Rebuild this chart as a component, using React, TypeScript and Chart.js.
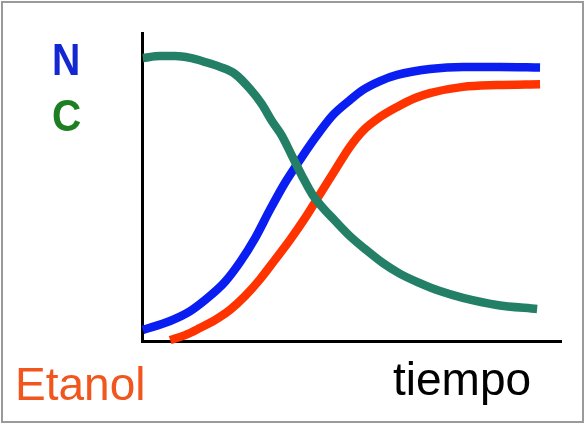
import React, { useEffect, useRef } from "react";
import { Chart, registerables } from "chart.js";

Chart.register(...registerables);

// time (0-100) and concentration (0-100) readings
const timeN = [0.2, 6.7, 11.5, 16.2, 19.8, 23.4, 27.0, 30.5, 34.1, 37.7, 41.3, 45.6, 49.6, 52.7, 56.8, 60.9, 68.7, 76.6, 85.4, 95.0];
const valueN = [3.6, 6.5, 9.7, 14.6, 19.2, 25.6, 33.4, 42.5, 51.3, 58.8, 65.9, 73.4, 78.2, 81.5, 84.4, 86.4, 88.3, 89.0, 89.0, 88.8];

const timeEtanol = [6.7, 10.3, 13.8, 17.4, 21.0, 24.6, 28.2, 31.7, 35.3, 38.9, 42.5, 46.1, 49.6, 52.7, 56.8, 60.9, 65.2, 68.7, 76.6, 84.7, 95.0];
const valueEtanol = [0.3, 1.9, 4.2, 6.8, 10.1, 14.6, 20.1, 26.3, 32.8, 39.9, 47.7, 55.5, 63.0, 68.2, 72.7, 76.0, 78.9, 80.5, 82.5, 83.1, 83.4];

const timeC = [0.2, 4.3, 7.9, 11.5, 15.0, 18.6, 22.2, 25.8, 28.6, 31.0, 33.4, 35.8, 38.2, 40.6, 43.0, 46.1, 49.6, 53.2, 57.5, 61.6, 66.3, 71.1, 76.6, 84.7, 94.3];
const valueC = [91.9, 92.5, 92.5, 91.9, 90.6, 89.0, 86.7, 81.8, 76.9, 71.4, 66.6, 60.1, 53.6, 47.7, 43.5, 39.0, 34.1, 29.9, 25.3, 21.8, 18.8, 16.2, 14.0, 11.7, 10.4];

const labelN = "N";
const labelC = "C";
const labelEtanol = "Etanol";
const labelTiempo = "tiempo";

const pts = (xs: number[], ys: number[]) => xs.map((x, i) => ({ x, y: ys[i] }));

export default function App() {
  const ref = useRef<HTMLCanvasElement | null>(null);

  useEffect(() => {
    if (!ref.current) return;
    const common = {
      borderWidth: 8.5,
      pointRadius: 0,
      cubicInterpolationMode: "monotone" as const,
      fill: false,
      clip: false as any,
      borderCapStyle: "butt" as const,
      borderJoinStyle: "round" as const,
    };
    const chart = new Chart(ref.current, {
      type: "line",
      data: {
        datasets: [
          { ...common, label: labelC, data: pts(timeC, valueC), borderColor: "#238066", order: 0 },
          { ...common, label: labelN, data: pts(timeN, valueN), borderColor: "#0A1EF2", order: 1 },
          { ...common, label: labelEtanol, data: pts(timeEtanol, valueEtanol), borderColor: "#FF3300", order: 2 },
        ],
      },
      options: {
        responsive: false,
        animation: false,
        layout: { padding: { left: 142, top: 33, right: 24, bottom: 82 } },
        plugins: { legend: { display: false }, tooltip: { enabled: false } },
        scales: {
          x: {
            type: "linear",
            min: 0,
            max: 100,
            grid: { display: false, drawTicks: false },
            ticks: { display: false },
            border: { display: true, color: "#000", width: 3 },
          },
          y: {
            type: "linear",
            min: 0,
            max: 100,
            grid: { display: false, drawTicks: false },
            ticks: { display: false },
            border: { display: true, color: "#000", width: 3 },
          },
        },
      },
    });
    return () => chart.destroy();
  }, []);

  const txt = (extra: React.CSSProperties): React.CSSProperties => ({
    position: "absolute",
    fontFamily: "'Liberation Sans', Arial, sans-serif",
    lineHeight: 1,
    whiteSpace: "nowrap",
    margin: 0,
    ...extra,
  });

  return (
    <div
      style={{
        position: "fixed",
        left: 0,
        top: 0,
        width: 585,
        height: 423,
        background: "#fff",
        overflow: "hidden",
      }}
    >
      <canvas ref={ref} width={585} height={423} style={{ position: "absolute", left: 0, top: 0 }} />
      <div
        style={{
          position: "absolute",
          left: 1,
          top: 1,
          width: 579,
          height: 418,
          border: "2px solid #9a9a9a",
          pointerEvents: "none",
        }}
      />
      <div style={txt({ left: 52, top: 37, fontSize: 45, fontWeight: 700, color: "#1428D2", transform: "scaleX(0.87)", transformOrigin: "left top" })}>{labelN}</div>
      <div style={txt({ left: 52, top: 93, fontSize: 45, fontWeight: 700, color: "#1E7F22", transform: "scaleX(0.9)", transformOrigin: "left top" })}>{labelC}</div>
      <div style={txt({ left: 15, top: 361, fontSize: 46, color: "#F0561E" })}>{labelEtanol}</div>
      <div style={txt({ left: 393, top: 356, fontSize: 46, color: "#000" })}>{labelTiempo}</div>
    </div>
  );
}
